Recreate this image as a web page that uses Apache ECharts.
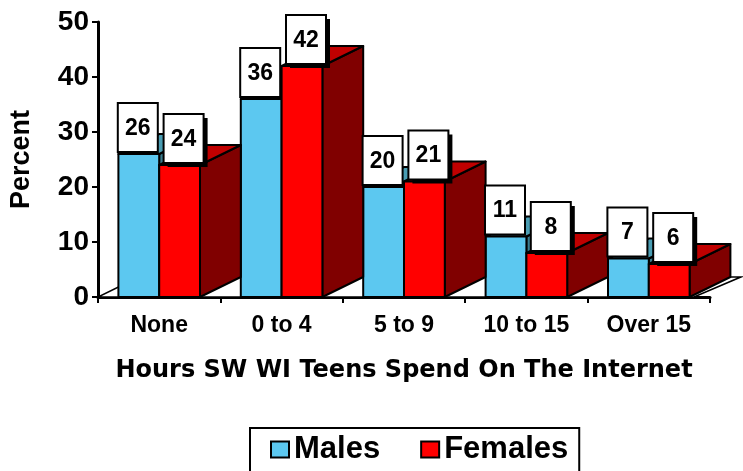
<!DOCTYPE html>
<html><head><meta charset="utf-8">
<script src="https://cdn.jsdelivr.net/npm/echarts@6/dist/echarts.min.js"></script>
<style>html,body{margin:0;padding:0;background:#fff}#c{width:743px;height:471px}</style>
</head><body><div id="c"></div>
<script>
const categories = ['None', '0 to 4', '5 to 9', '10 to 15', 'Over 15'];
const males = [26, 36, 20, 11, 7];
const females = [24, 42, 21, 8, 6];
const yTicks = [0, 10, 20, 30, 40, 50];
const seriesNames = ['Males', 'Females'];
const xTitle = 'Hours SW WI Teens Spend On The Internet';
const yTitle = 'Percent';

const FONT = '"Liberation Sans", Arial, sans-serif';
const WIDE = '"DejaVu Sans", "Liberation Sans", sans-serif';

const maleFaces = { front: '#5CC8F0', top: '#4A9DB3', side: '#3A7C8E' };
const femaleFaces = { front: '#FF0000', top: '#C00000', side: '#800000' };

const DY = -20;
function barRender(side, faces) {
  return function (params, api) {
    const ci = api.value(0), v = api.value(1);
    const base = api.coord([ci, 0]);
    const top = api.coord([ci, v]);
    const band = api.size([1, 0])[0];
    const w = band / 3;
    const x0 = side === 0 ? base[0] - w : base[0];
    const x1 = x0 + w;
    const yb = base[1], yt = top[1];
    const dx = w, dy = DY;
    const st = { stroke: '#000', lineWidth: 2, lineJoin: 'round' };
    return {
      type: 'group', children: [
        { type: 'polygon', shape: { points: [[x1, yt], [x1 + dx, yt + dy], [x1 + dx, yb + dy], [x1, yb]] }, style: Object.assign({ fill: faces.side }, st) },
        { type: 'polygon', shape: { points: [[x0, yt], [x1, yt], [x1 + dx, yt + dy], [x0 + dx, yt + dy]] }, style: Object.assign({ fill: faces.top }, st) },
        { type: 'rect', shape: { x: x0, y: yt, width: w, height: yb - yt }, style: Object.assign({ fill: faces.front }, st) }
      ]
    };
  };
}

function labelRender(params, api) {
  const ci = api.value(0);
  const band = api.size([1, 0])[0];
  const w = band / 3;
  const bw = 40, bh = 49;
  const children = [];
  [1, 2].forEach(function (k) {
    const v = api.value(k);
    const p = api.coord([ci, v]);
    const cx = k === 1 ? p[0] - w / 2 - 1 : p[0] + w / 2 + 4;
    const by = p[1] - 2;
    const x = cx - bw / 2, y = by - bh;
    if (k === 2) {
      children.push({ type: 'rect', shape: { x: x + 4, y: y + 4, width: bw, height: bh }, style: { fill: '#000' } });
    }
    children.push({ type: 'rect', shape: { x: x, y: y, width: bw, height: bh }, style: { fill: '#fff', stroke: '#000', lineWidth: 2 } });
    children.push({ type: 'text', style: { text: String(v), x: cx, y: y + bh / 2 + 1, align: 'center', verticalAlign: 'middle', font: 'bold 23px ' + FONT, fill: '#000' } });
  });
  return { type: 'group', children: children };
}

function floorRender(params, api) {
  const cs = params.coordSys;
  const yb = api.coord([0, 0])[1];
  const band = api.size([1, 0])[0];
  const d = band / 3;
  const xl = cs.x, xr = cs.x + cs.width - 16;
  return {
    type: 'polygon',
    shape: { points: [[xl, yb], [xr, yb], [xr + d + 6, yb + DY], [xl + d, yb + DY]] },
    style: { fill: '#fff', stroke: '#000', lineWidth: 1.5 }
  };
}

const chart = echarts.init(document.getElementById('c'));
chart.setOption({
  animation: false,
  backgroundColor: '#fff',
  grid: { left: 97, right: 33, top: 22, bottom: 174 },
  legend: {
    left: 250, top: 428,
    orient: 'horizontal',
    padding: [6, 11, 20, 20],
    itemGap: 40, itemWidth: 18, itemHeight: 16,
    borderColor: '#000', borderWidth: 2,
    textStyle: { color: '#000', fontSize: 31, fontWeight: 'bold', fontFamily: FONT, lineHeight: 30 },
    selectedMode: false,
    data: [
      { name: seriesNames[0], icon: 'rect', itemStyle: { color: maleFaces.front, borderColor: '#000', borderWidth: 2 } },
      { name: seriesNames[1], icon: 'rect', itemStyle: { color: femaleFaces.front, borderColor: '#000', borderWidth: 2 } }
    ]
  },
  xAxis: {
    type: 'category', data: categories, boundaryGap: true,
    axisLine: { lineStyle: { color: '#000', width: 3 } },
    axisTick: { show: true, length: 6, lineStyle: { color: '#000', width: 2 } },
    axisLabel: { color: '#000', fontSize: 23, fontWeight: 'bold', fontFamily: FONT, margin: 17 },
    splitLine: { show: false },
    name: xTitle, nameLocation: 'middle', nameGap: 60,
    nameTextStyle: { color: '#000', fontSize: 24, fontWeight: 'bold', fontFamily: WIDE, lineHeight: 28 }
  },
  yAxis: {
    type: 'value', min: yTicks[0], max: yTicks[yTicks.length - 1], interval: yTicks[1] - yTicks[0],
    axisLine: { show: true, lineStyle: { color: '#000', width: 3 } },
    axisTick: { show: true, length: 6, lineStyle: { color: '#000', width: 2 } },
    axisLabel: { color: '#000', fontSize: 28, fontWeight: 'bold', fontFamily: FONT, margin: 9 },
    splitLine: { show: false },
    name: yTitle, nameLocation: 'middle', nameRotate: 90, nameGap: 63,
    nameTextStyle: { color: '#000', fontSize: 27, fontWeight: 'bold', fontFamily: FONT }
  },
  series: [
    { type: 'custom', name: 'floor', silent: true, z: 1, renderItem: floorRender, data: [[0, 0]], encode: { x: 0, y: 1 } },
    { type: 'custom', name: seriesNames[0], z: 2, renderItem: barRender(0, maleFaces), itemStyle: { color: maleFaces.front },
      data: males.map(function (v, i) { return [i, v]; }), encode: { x: 0, y: 1 } },
    { type: 'custom', name: seriesNames[1], z: 3, renderItem: barRender(1, femaleFaces), itemStyle: { color: femaleFaces.front },
      data: females.map(function (v, i) { return [i, v]; }), encode: { x: 0, y: 1 } },
    { type: 'custom', name: 'labels', silent: true, z: 5, renderItem: labelRender,
      data: categories.map(function (c, i) { return [i, males[i], females[i]]; }), encode: { x: 0, y: [1, 2] } }
  ]
});
</script>
</body></html>
